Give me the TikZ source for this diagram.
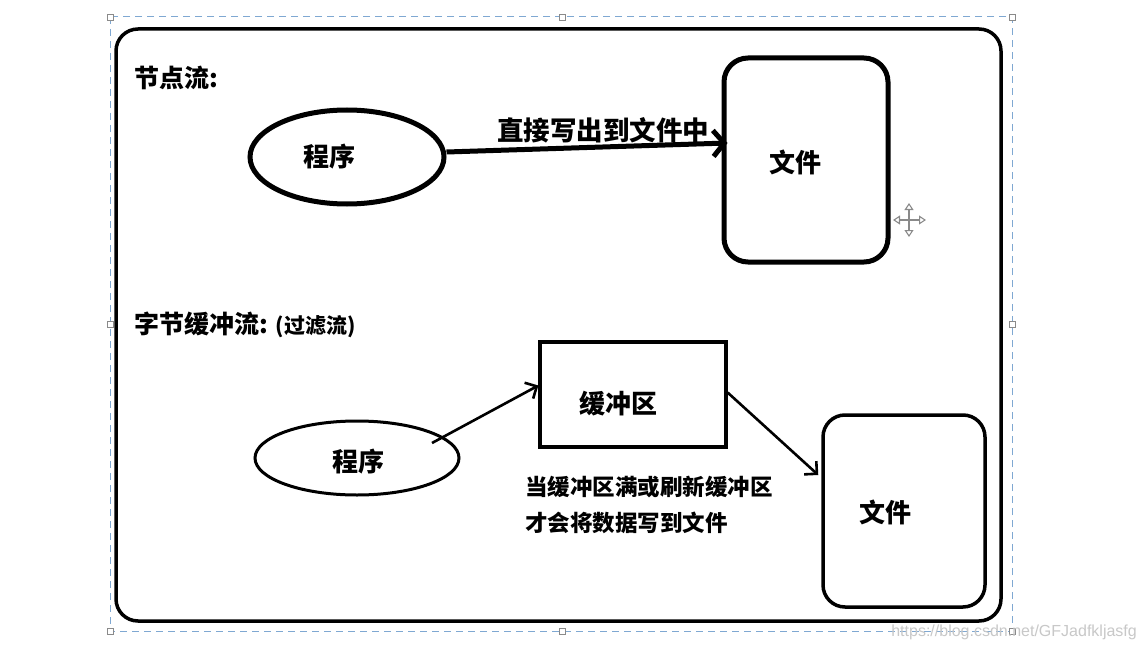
\documentclass[tikz,border=0pt]{standalone}
\usepackage{fontspec}
\setmainfont{Noto Sans CJK SC}
\setsansfont{Liberation Sans}
\usetikzlibrary{arrows.meta,shapes.geometric,calc}
\definecolor{selblue}{HTML}{7FA8D2}
\definecolor{handlegray}{HTML}{8A8A8A}
\definecolor{wmgray}{HTML}{C8C8C8}
\tikzset{
  lbl/.style={font=\bfseries\fontsize{26}{29}\selectfont, inner sep=0pt},
  captxt/.style={font=\bfseries\fontsize{22.5}{25}\selectfont, inner sep=0pt, anchor=west},
  headtxt/.style={font=\bfseries\fontsize{25}{28}\selectfont, inner sep=0pt, anchor=west},
  handle/.style={draw=handlegray, fill=white, line width=0.8pt, minimum size=6pt, inner sep=0pt},
  thickbox/.style={draw, line width=5pt, rounded corners=24pt},
  thinbox/.style={draw, line width=3.2pt},
  arrowA/.style={line width=5pt, -{Straight Barb[length=11pt,width=26pt]}},
  arrowB/.style={line width=2.6pt, -{Straight Barb[length=9pt,width=18pt]}},
  curs/.style={handlegray, line width=1.1pt, {Triangle[open,length=7pt,width=9pt]}-{Triangle[open,length=7pt,width=9pt]}},
}
\begin{document}
\begin{tikzpicture}[x=1pt,y=-1pt]
\useasboundingbox (0,0) rectangle (1145,650);
\fill[white] (0,0) rectangle (1145,650);
% selection frame
\draw[selblue, line width=1pt, dash pattern=on 7pt off 5pt] (110,17) rectangle (1012,631);
\foreach \hx/\hy/\n in {110/17/h1,562/17/h2,1012/17/h3,110/324/h4,1012/324/h5,110/631/h6,562/631/h7,1012/631/h8}
  \node[handle] (\n) at (\hx,\hy) {};
% outer frame
\node[draw, line width=3.5pt, rounded corners=22pt, minimum width=885pt, minimum height=592pt] (frame) at (558.5,325) {};
% headings
\node[headtxt] (t1) at (134,78) {节点流:};
\node[headtxt] (t2) at (134,325) {字节缓冲流: {\fontsize{21}{24}\selectfont(过滤流)}};
% top part
\node[draw, ellipse, line width=5pt, minimum width=194pt, minimum height=94pt] (p1) at (347,157) {};
\node[lbl] (p1t) at (329,157) {程序};
\node[thickbox, minimum width=164pt, minimum height=204pt] (f1) at (806,160) {};
\node[lbl] (f1t) at (795,162) {文件};
\draw[arrowA] ($(p1.east)+(0,-5)$) -- ($(f1.west)+(6,-17)$);
\node[font=\bfseries\fontsize{26.5}{29}\selectfont, inner sep=0pt] (a1t) at (603,130) {直接写出到文件中};
% move cursor
\draw[curs] (893,220) -- (926,220);
\draw[curs] (909,203) -- (909,237);
% bottom part
\node[draw, ellipse, line width=3pt, minimum width=204pt, minimum height=74pt] (p2) at (357,458) {};
\node[lbl] (p2t) at (358,462) {程序};
\node[thinbox, minimum width=186pt, minimum height=105pt] (buf) at (633,394.5) {};
\node[lbl] (buft) at (618,404) {缓冲区};
\node[draw, line width=3.5pt, rounded corners=22pt, minimum width=162pt, minimum height=192pt] (f2) at (904,511) {};
\node[lbl] (f2t) at (885,512) {文件};
\draw[arrowB] ($(p2.center)+(75,-15)$) -- ($(buf.west)+(0,-9)$);
\draw[arrowB] ($(buf.east)+(0,-2)$) -- ($(f2.west)+(-3,-36)$);
\node[captxt] (c1) at (525,487) {当缓冲区满或刷新缓冲区};
\node[captxt] (c2) at (525,523) {才会将数据写到文件};
% watermark
\node[wmgray, font=\sffamily\fontsize{16}{18}\selectfont, anchor=east, inner sep=0pt] (wm) at (1137,632) {https://blog.csdn.net/GFJadfkljasfg};
\end{tikzpicture}
\end{document}
